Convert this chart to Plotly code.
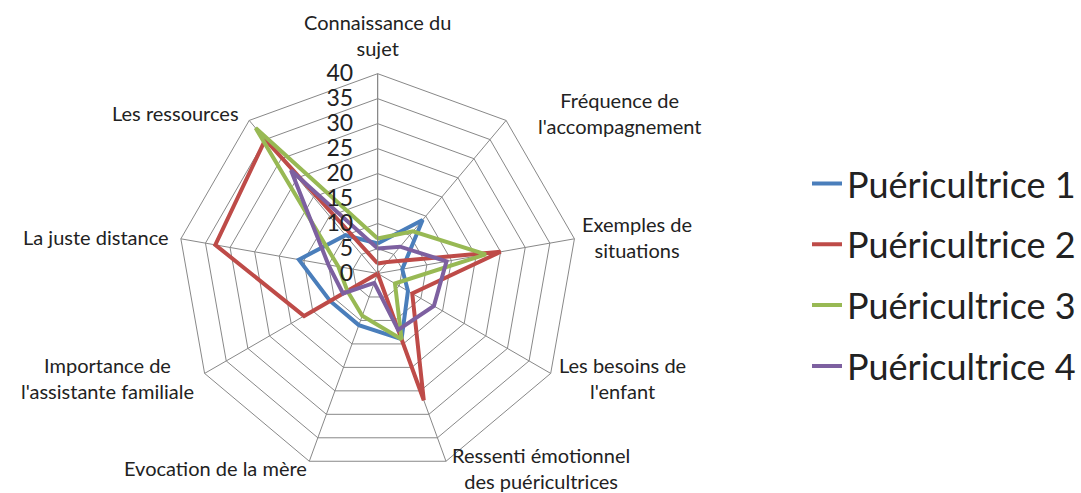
import math
import plotly.graph_objects as go

categories = [
    "Connaissance du<br>sujet",
    "Fréquence de<br>l'accompagnement",
    "Exemples de<br>situations",
    "Les besoins de<br>l'enfant",
    "Ressenti émotionnel<br>des puéricultrices",
    "Evocation de la mère",
    "Importance de<br>l'assistante familiale",
    "La juste distance",
    "Les ressources",
]

series_names = ["Puéricultrice 1", "Puéricultrice 2", "Puéricultrice 3", "Puéricultrice 4"]
p1 = [6, 14, 5, 7, 14, 11, 11, 16, 10]
p2 = [2, 3, 25, 8, 27, 0, 17, 33, 35]
p3 = [7, 11, 22, 4, 14, 9, 7, 8, 38]
p4 = [5, 7, 14, 13, 12, 2, 8, 10, 27]
series_values = [p1, p2, p3, p4]
colors = ["#4A7EBB", "#BE4B48", "#98B954", "#7D60A0"]

radial_ticks = [0, 5, 10, 15, 20, 25, 30, 35, 40]
r_max = 40

fig = go.Figure()
for name, vals, col in zip(series_names, series_values, colors):
    fig.add_trace(go.Scatterpolar(
        r=vals + [vals[0]],
        theta=categories + [categories[0]],
        mode="lines",
        name=name,
        legendgroup=name,
        line=dict(color=col, width=4),
    ))

W, H = 1081, 493
cx, cy, R = 378, 273.5, 200
FONT = "Lato"
# horizontal gap between vertex and its label (Excel-like placement)
label_gap = [0, 30, 6, 6, 4, 0, 9, 10, 8]

annotations = []
n = len(categories)
for i, lab in enumerate(categories):
    th = math.radians(360 * i / n)
    s, c = math.sin(th), math.cos(th)
    vx, vy = cx + R * s, cy - R * c
    if s > 0.1:
        xa, x = "left", vx + label_gap[i]
    elif s < -0.1:
        xa, x = "right", vx - label_gap[i]
    else:
        xa, x = "center", vx
    if c > 0.9:
        ya, y = "bottom", vy - 12
    else:
        ya, y = "middle", vy - 9 * c - (2 if c < -0.9 else 0)
    annotations.append(dict(
        text=lab, x=x / W, y=1 - y / H, xref="paper", yref="paper",
        xanchor=xa, yanchor=ya, align="center", showarrow=False,
        font=dict(family=FONT, size=20, color="#222"),
    ))

fig.update_layout(
    width=W, height=H,
    margin=dict(l=0, r=0, t=0, b=0),
    paper_bgcolor="white",
    plot_bgcolor="white",
    font=dict(family=FONT, size=20, color="#222"),
    annotations=annotations,
    polar=dict(
        domain=dict(x=[(cx - R) / W, (cx + R) / W],
                    y=[(H - cy - R) / H, (H - cy + R) / H]),
        gridshape="linear",
        bgcolor="white",
        radialaxis=dict(
            range=[0, r_max], tickvals=radial_ticks, angle=90,
            side="counterclockwise",
            showline=True, linecolor="#888", linewidth=1,
            gridcolor="#888", gridwidth=1,
            ticks="outside", ticklen=16, tickcolor="rgba(0,0,0,0)",
            tickfont=dict(family=FONT, size=23, color="#222"),
            tickangle=90,
        ),
        angularaxis=dict(
            direction="clockwise", rotation=90,
            showline=True, linecolor="#888", linewidth=1,
            gridcolor="#888", gridwidth=1,
            showticklabels=False, ticks="",
        ),
    ),
    legend=dict(
        x=0.7475, y=0.442, xanchor="left", yanchor="middle",
        font=dict(family=FONT, size=36, color="#222"),
        tracegroupgap=11,
        bgcolor="rgba(0,0,0,0)",
    ),
    showlegend=True,
)

fig.write_html("out.html", config={"displayModeBar": False},
               post_script="document.body.style.margin='0';")
